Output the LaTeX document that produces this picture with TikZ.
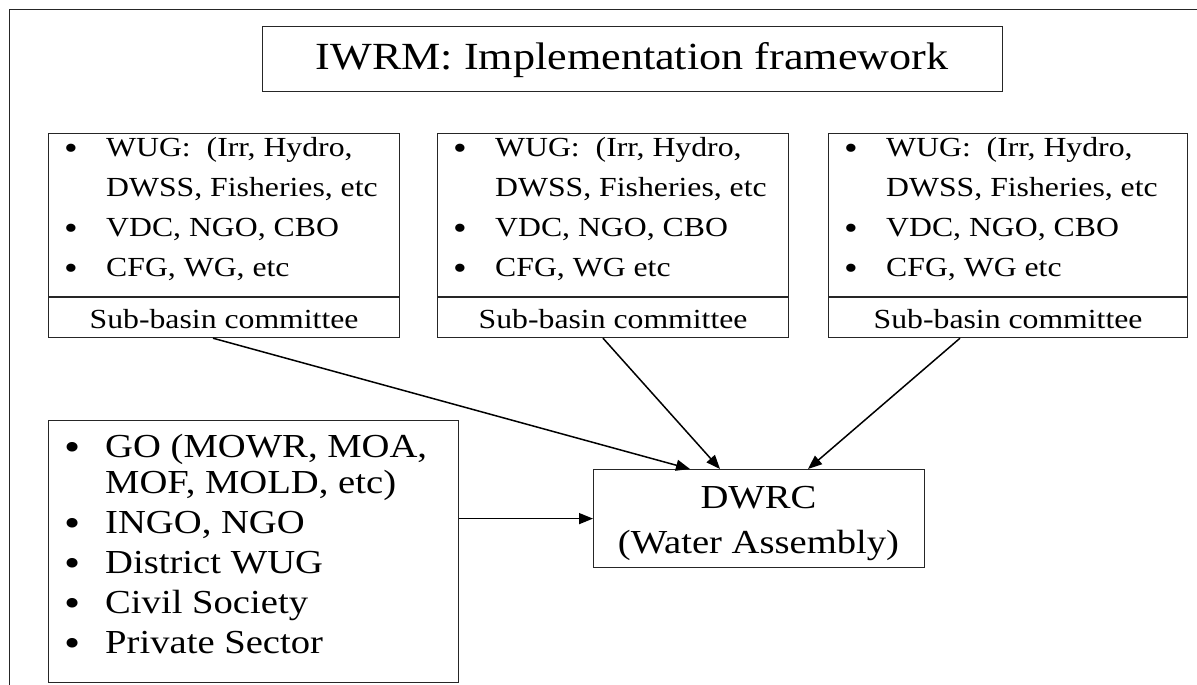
\documentclass[tikz,border=0pt]{standalone}
\usepackage{fontspec}
\setmainfont{Liberation Serif}[FakeStretch=1.15]
\usetikzlibrary{arrows.meta}
\begin{document}
\begin{tikzpicture}[x=1pt,y=-1pt,
  frame/.style={draw=black!85, line width=1.3pt},
  box/.style={draw=black!85, line width=1.2pt, inner sep=0pt, anchor=north west},
  lbl/.style={inner sep=0pt, anchor=base west},
  sm/.style={font=\fontsize{27.6}{30}\selectfont},
  lg/.style={font=\fontsize{33.6}{36}\selectfont},
  smb/.style={inner sep=0pt, anchor=base west, font=\fontsize{34}{36}\selectfont},
  lgb/.style={inner sep=0pt, anchor=base west, font=\fontsize{40}{42}\selectfont},
  arr/.style={-{Triangle[length=14pt,width=11pt]}, line width=1.5pt}]
\useasboundingbox (0,0) rectangle (1197,685);
\draw[frame] (1197,9.5) -- (9.5,9.5) -- (9.5,685);
% title
\node[box, minimum width=740pt, minimum height=65pt] (title) at (262,26) {};
\node[inner sep=0pt, font=\fontsize{38.4}{42}\selectfont, anchor=base] (tt) at (632,70) {IWRM: Implementation framework};
% sub-basin boxes
\foreach \i/\x/\w/\c in {1/48/351/{CFG, WG, etc},2/437/351/{CFG, WG etc},3/828/359/{CFG, WG etc}}{
  \node[box, minimum width=\w pt, minimum height=204pt] (b\i) at (\x,133) {};
  \draw[line width=1.2pt, draw=black!85] ([yshift=-164pt]b\i.north west) -- ([yshift=-164pt]b\i.north east);
  \node[smb] (b\i p1) at (\x+16,159) {\textbullet};
  \node[lbl, sm] (b\i t1) at (\x+58,156) {WUG:\ \ (Irr, Hydro,};
  \node[lbl, sm] (b\i t2) at (\x+58,196) {DWSS, Fisheries, etc};
  \node[smb] (b\i p3) at (\x+16,239) {\textbullet};
  \node[lbl, sm] (b\i t3) at (\x+58,236) {VDC, NGO, CBO};
  \node[smb] (b\i p4) at (\x+16,279) {\textbullet};
  \node[lbl, sm] (b\i t4) at (\x+58,276) {\c};
  \node[inner sep=0pt, sm, anchor=base] (s\i) at ([yshift=-195pt]b\i.north) {Sub-basin committee};
}
% GO box
\node[box, minimum width=410pt, minimum height=262pt] (go) at (48,420) {};
\node[lgb] (gp1) at (64,460) {\textbullet};
\node[lbl, lg] (gt1) at (105,457) {GO (MOWR, MOA,};
\node[lbl, lg] (gt2) at (105,493) {MOF, MOLD, etc)};
\node[lgb] (gp3) at (64,536) {\textbullet};
\node[lbl, lg] (gt3) at (105,533) {INGO, NGO};
\node[lgb] (gp4) at (64,576) {\textbullet};
\node[lbl, lg] (gt4) at (105,573) {District WUG};
\node[lgb] (gp5) at (64,616) {\textbullet};
\node[lbl, lg] (gt5) at (105,613) {Civil Society};
\node[lgb] (gp6) at (64,656) {\textbullet};
\node[lbl, lg] (gt6) at (105,653) {Private Sector};
% DWRC
\node[box, minimum width=331pt, minimum height=98pt] (dw) at (593,469) {};
\node[inner sep=0pt, lg, anchor=base] (dw1) at (758.5,508) {DWRC};
\node[inner sep=0pt, lg, anchor=base] (dw2) at (758.5,553) {(Water Assembly)};
% arrows
\draw[arr] ([xshift=165pt]b1.south west) -- ([xshift=97pt]dw.north west);
\draw[arr] ([xshift=166pt]b2.south west) -- ([xshift=127pt]dw.north west);
\draw[arr] ([xshift=132pt]b3.south west) -- ([xshift=215pt]dw.north west);
\draw[arr] (go.east |- dw.west) -- (dw.west);
\end{tikzpicture}
\end{document}
